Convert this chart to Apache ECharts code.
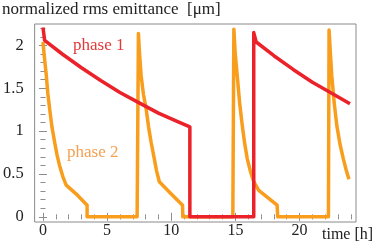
<!DOCTYPE html>
<html>
<head>
<meta charset="utf-8">
<script src="https://cdn.jsdelivr.net/npm/echarts@6/dist/echarts.min.js"></script>
<style>html,body{margin:0;padding:0;background:#fff}#c{width:374px;height:247px}</style>
</head>
<body>
<div id="c"></div>
<script>
// time [h] and emittance [um] for phase 1 (red)
var phase1Time = [0, 0.13, 1.5, 3.0, 4.5, 6.0, 7.5, 9.0, 10.5, 11.45, 11.45, 16.43, 16.43, 16.62, 18.0, 19.5, 21.0, 22.3, 23.93];
var phase1Emit = [2.21, 2.06, 1.90, 1.74, 1.59, 1.45, 1.33, 1.21, 1.11, 1.05, 0, 0, 2.15, 2.04, 1.88, 1.72, 1.57, 1.46, 1.32];
// phase 2 (orange)
var phase2Time = [0.0, 0.1, 0.26, 0.38, 0.52, 0.7, 0.91, 1.1, 1.29, 1.55, 1.81, 2.71, 3.44, 3.44, 7.34,
                  7.44, 7.52, 7.65, 7.83, 8.04, 8.23, 8.43, 8.65, 8.85, 9.07, 9.98, 10.88, 10.9, 14.8,
                  14.88, 14.98, 15.14, 15.33, 15.53, 15.72, 15.92, 16.17, 16.43, 16.82, 18.25, 18.3, 22.25,
                  22.3, 22.4, 22.51, 22.7, 22.9, 23.15, 23.41, 23.63, 23.85];
var phase2Emit = [2.04, 1.88, 1.65, 1.44, 1.26, 1.05, 0.87, 0.72, 0.60, 0.47, 0.37, 0.25, 0.136, 0, 0,
                  2.14, 1.92, 1.65, 1.43, 1.26, 1.05, 0.87, 0.70, 0.54, 0.41, 0.27, 0.136, 0, 0,
                  2.19, 1.92, 1.65, 1.33, 1.07, 0.86, 0.68, 0.53, 0.41, 0.31, 0.136, 0, 0,
                  2.18, 1.92, 1.65, 1.33, 1.07, 0.85, 0.68, 0.55, 0.44];
var xMajor = [0, 5, 10, 15, 20];
var xMinor = [0,1,2,3,4,5,6,7,8,9,10,11,12,13,14,15,16,17,18,19,20,21,22,23,24];
var yMajor = [0, 0.5, 1, 1.5, 2];
var yMinor = [0,0.1,0.2,0.3,0.4,0.5,0.6,0.7,0.8,0.9,1,1.1,1.2,1.3,1.4,1.5,1.6,1.7,1.8,1.9,2,2.1,2.2];
var titleText = 'normalized rms emittance  [\u03bcm]';
var xName = 'time [h]';

function pairs(xs, ys){ return xs.map(function(x,i){ return [x, ys[i]]; }); }

var font = 'Liberation Serif';
var tickColor = '#8c8c8c';
var xMin = -0.65, xMax = 24.4, yMin = -0.06, yMax = 2.25;

function xAx(pos, vals, len, labels){
  return {
    type:'value', min:xMin, max:xMax, position:pos,
    axisLine:{show:false},
    splitLine:{show:false},
    axisTick:{show:true, inside:true, length:len, customValues:vals, lineStyle:{color:tickColor, width:1}},
    axisLabel:{show:!!labels, customValues:vals, margin:1, fontFamily:font, fontSize:16, color:'#222'}
  };
}
function yAx(pos, vals, len, labels){
  return {
    type:'value', min:yMin, max:yMax, position:pos,
    axisLine:{show:false},
    splitLine:{show:false},
    axisTick:{show:true, inside:true, length:len, customValues:vals, lineStyle:{color:tickColor, width:1}},
    axisLabel:{show:!!labels, customValues:vals, margin:11, fontFamily:font, fontSize:16.5, color:'#222'}
  };
}

var chart = echarts.init(document.getElementById('c'), null, {renderer:'canvas'});
chart.setOption({
  animation:false,
  grid:{left:33, right:18, top:24, bottom:25, show:true, borderColor:'#8a8a8a', borderWidth:1, backgroundColor:'transparent'},
  xAxis:[
    xAx('bottom', xMajor, 4, true),
    xAx('bottom', xMinor, 2.5, false),
    xAx('top', xMajor, 4, false),
    xAx('top', xMinor, 2.5, false)
  ],
  yAxis:[
    yAx('left', yMajor, 4, true),
    yAx('left', yMinor, 2.5, false),
    yAx('right', yMajor, 4, false),
    yAx('right', yMinor, 2.5, false)
  ],
  series:[
    {type:'line', name:'phase 2', data:pairs(phase2Time, phase2Emit), showSymbol:false, symbol:'none',
     lineStyle:{color:'#f99d1c', width:3.5, join:'round', cap:'butt'}, z:2},
    {type:'line', name:'phase 1', data:pairs(phase1Time, phase1Emit), showSymbol:false, symbol:'none',
     lineStyle:{color:'#eb2229', width:3.5, join:'round', cap:'butt'}, z:3}
  ],
  graphic:[
    {type:'text', left:2, top:1, style:{text:titleText, fontFamily:font, fontSize:17, fill:'#222'}},
    {type:'text', left:322, top:227, style:{text:xName, fontFamily:font, fontSize:16, fill:'#222'}},
    {type:'text', left:73, top:37, style:{text:'phase 1', fontFamily:font, fontSize:17, fill:'#e03a3a'}},
    {type:'text', left:67, top:144, style:{text:'phase 2', fontFamily:font, fontSize:17, fill:'#f5a050'}}
  ]
});
</script>
</body>
</html>
